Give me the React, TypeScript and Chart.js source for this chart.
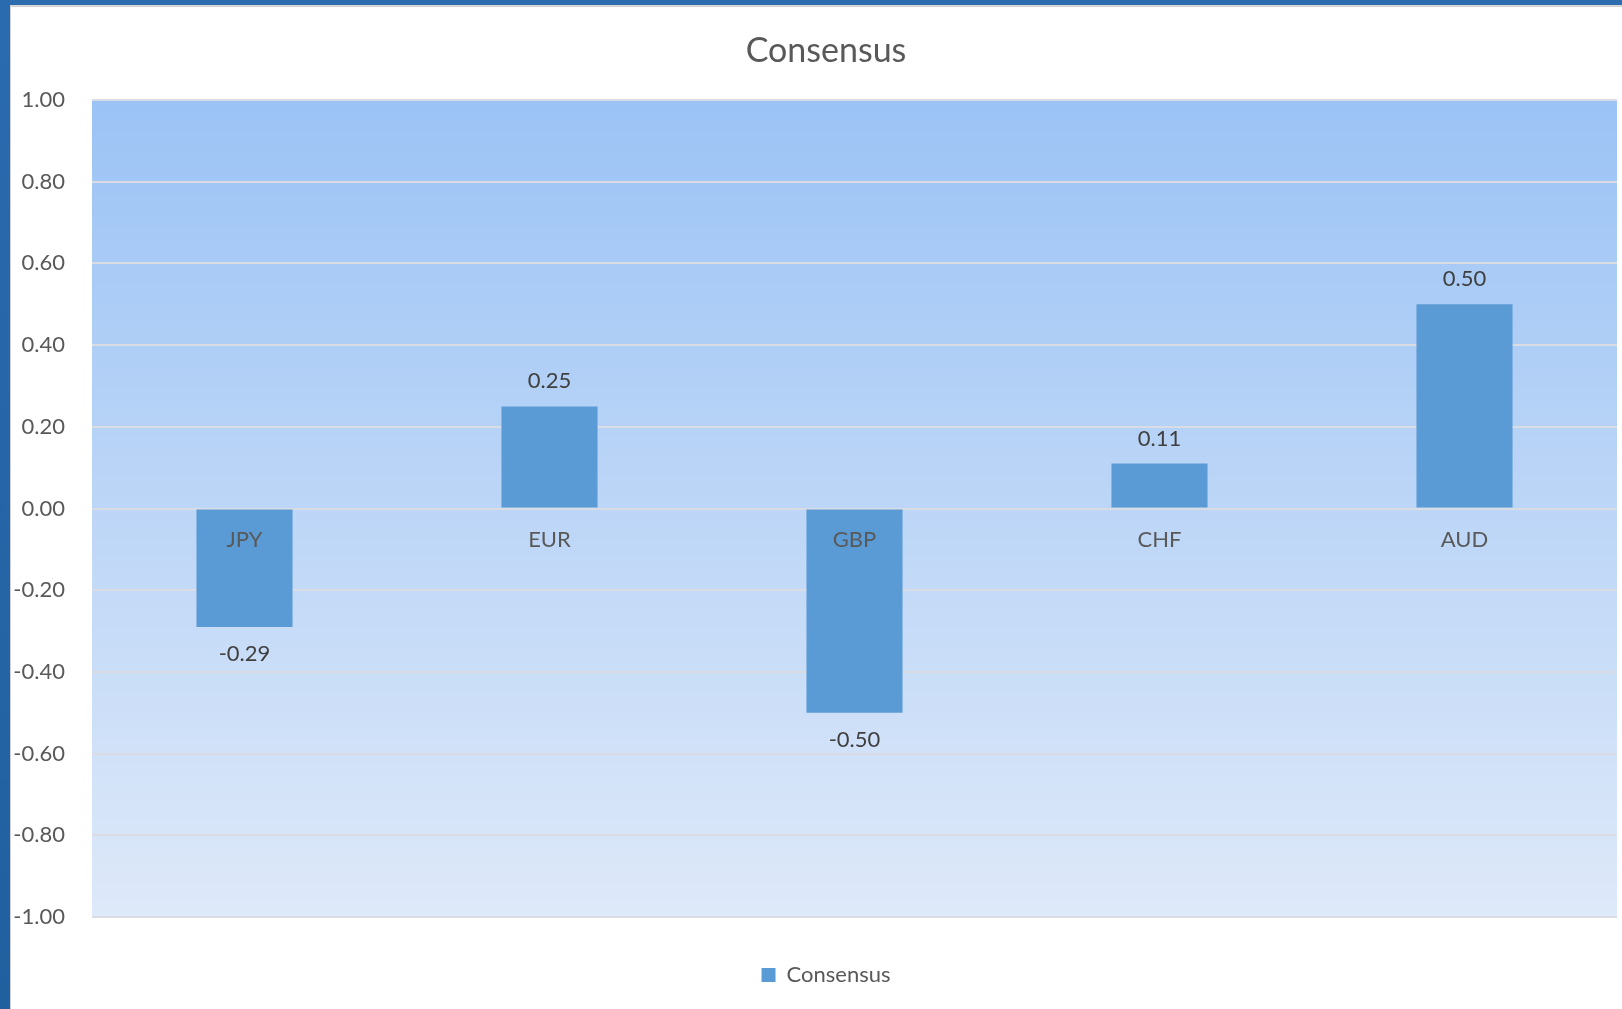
import React, { useEffect, useRef } from "react";
import { Chart, registerables } from "chart.js";

Chart.register(...registerables);

const categories = ["JPY", "EUR", "GBP", "CHF", "AUD"];
const consensusValues = [-0.29, 0.25, -0.5, 0.11, 0.5];
const seriesLabel = "Consensus";
const chartTitle = "Consensus";
const yMin = -1;
const yMax = 1;
const yStep = 0.2;

const FONT = "Lato, 'Open Sans', sans-serif";
const TICK_FONT_SIZE = 22;

const bgPlugin = {
  id: "plotBackground",
  beforeDraw(chart: any) {
    const { ctx, chartArea: a, width, height } = chart;
    ctx.save();
    ctx.fillStyle = "#ffffff";
    ctx.fillRect(0, 0, width, height);
    const g = ctx.createLinearGradient(0, a.top, 0, a.bottom);
    g.addColorStop(0, "#9BC3F5");
    g.addColorStop(1, "#DEE9F9");
    ctx.fillStyle = g;
    ctx.fillRect(a.left, a.top, a.right - a.left, a.bottom - a.top);
    ctx.restore();
  },
};

const valueLabelPlugin = {
  id: "valueLabels",
  afterDatasetsDraw(chart: any) {
    const { ctx } = chart;
    const meta = chart.getDatasetMeta(0);
    const data = chart.data.datasets[0].data as number[];
    ctx.save();
    ctx.font = `22px ${FONT}`;
    ctx.textAlign = "center";
    ctx.textBaseline = "middle";
    ctx.fillStyle = "#404040";
    meta.data.forEach((bar: any, i: number) => {
      const v = data[i];
      const y = v >= 0 ? bar.y - 25 : bar.y + 27;
      ctx.fillText(v.toFixed(2), bar.x, y);
    });
    ctx.restore();
  },
};

const fmt = (v: any) => Number(v).toFixed(2);

export default function App() {
  const ref = useRef<HTMLCanvasElement>(null);

  useEffect(() => {
    if (!ref.current) return;
    // measure widest y tick label so mirrored labels can be right-aligned left of the plot
    const mctx = document.createElement("canvas").getContext("2d")!;
    mctx.font = `${TICK_FONT_SIZE}px ${FONT}`;
    let widest = 0;
    const n = Math.round((yMax - yMin) / yStep);
    for (let i = 0; i <= n; i++) {
      widest = Math.max(widest, mctx.measureText(fmt(yMin + i * yStep)).width);
    }
    const chart = new Chart(ref.current, {
      type: "bar",
      data: {
        labels: categories,
        datasets: [
          {
            label: seriesLabel,
            data: consensusValues,
            backgroundColor: "#5B9BD5",
            borderWidth: 0,
            barPercentage: 0.315,
            categoryPercentage: 1,
          },
        ],
      },
      options: {
        animation: false,
        responsive: true,
        maintainAspectRatio: false,
        layout: { padding: { left: 35, right: 5, top: 0, bottom: 13 } },
        scales: {
          x: {
            position: { y: 0 } as any,
            grid: { display: false, drawTicks: false },
            border: { display: false },
            ticks: {
              z: 1,
              color: "#595959",
              font: { family: FONT, size: TICK_FONT_SIZE },
              padding: 18,
            },
          },
          y: {
            min: yMin,
            max: yMax,
            afterFit(scale: any) {
              scale.width = 57;
            },
            grid: { color: "#D9DDE3", lineWidth: 2, drawTicks: false },
            border: { display: false },
            ticks: {
              stepSize: yStep,
              mirror: true,
              crossAlign: "far",
              color: "#595959",
              font: { family: FONT, size: TICK_FONT_SIZE },
              padding: -(27 + widest),
              callback: fmt,
            },
          },
        },
        plugins: {
          title: {
            display: true,
            text: chartTitle,
            color: "#595959",
            font: { family: FONT, size: 34, weight: "normal" },
            padding: { top: 31, bottom: 28.2 },
          },
          legend: {
            display: true,
            position: "bottom",
            labels: {
              boxWidth: 14,
              boxHeight: 14,
              padding: 47,
              color: "#595959",
              font: { family: FONT, size: 22 },
            },
          },
          tooltip: { enabled: false },
        },
      },
      plugins: [bgPlugin, valueLabelPlugin],
    });
    return () => chart.destroy();
  }, []);

  return (
    <div
      style={{
        position: "fixed",
        left: 0,
        top: 0,
        width: 1622,
        height: 1009,
        overflow: "hidden",
        background: "#ffffff",
      }}
    >
      <div style={{ position: "absolute", left: 0, top: 0, width: 1622, height: 1009 }}>
        <canvas ref={ref} />
      </div>
      <div style={{ position: "absolute", left: 0, top: 0, width: 1622, height: 5, background: "#2C6CAF" }} />
      <div style={{ position: "absolute", left: 10, top: 5, width: 1612, height: 2, background: "#D6D6D6" }} />
      <div style={{ position: "absolute", left: 0, top: 0, width: 10, height: 1009, background: "linear-gradient(#2A6AAE, #21609F)" }} />
      <div style={{ position: "absolute", left: 10, top: 5, width: 1, height: 1004, background: "#D0D0D0" }} />
    </div>
  );
}
